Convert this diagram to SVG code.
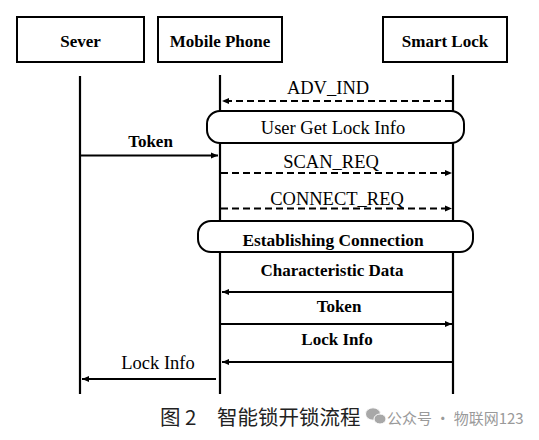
<svg xmlns="http://www.w3.org/2000/svg" width="539" height="440" viewBox="0 0 539 440">
<style>
.box{fill:#fff;stroke:#000;stroke-width:2}
.life{stroke:#000;stroke-width:2.2;fill:none}
.msg{stroke:#000;stroke-width:2;fill:none}
.dash{stroke-dasharray:7 4}
.rr{fill:#fff;stroke:#000;stroke-width:2}
.b{font-family:"Liberation Serif",serif;font-weight:bold;font-size:17px;text-anchor:middle;fill:#000}
.r{font-family:"Liberation Serif",serif;font-size:18.5px;text-anchor:middle;fill:#000}
.cap{font-family:"Noto Sans CJK SC",sans-serif;font-size:20.5px;fill:#222}
.wm{font-family:"Noto Sans CJK SC",sans-serif;font-size:15px;fill:#9a9a9a}
</style>
<defs>
<marker id="ah" markerWidth="8" markerHeight="8" refX="7" refY="4" orient="auto" markerUnits="userSpaceOnUse">
<path d="M0,1 L7,4 L0,7 Z" fill="#000"/>
</marker>
</defs>
<rect width="539" height="440" fill="#fff"/>
<g id="sever">
<rect class="box" x="17" y="17" width="127" height="45"/>
<text class="b" x="80.5" y="46.5">Sever</text>
<line class="life" x1="80" y1="76" x2="80" y2="394"/>
</g>
<g id="mobile-phone">
<rect class="box" x="158" y="17" width="124" height="45"/>
<text class="b" x="220" y="46.5">Mobile Phone</text>
<line class="life" x1="220" y1="75" x2="220" y2="394"/>
</g>
<g id="smart-lock">
<rect class="box" x="383" y="17" width="124" height="45"/>
<text class="b" x="445" y="46.5">Smart Lock</text>
<line class="life" x1="453" y1="75" x2="453" y2="394"/>
</g>
<g id="user-get-lock-info">
<rect class="rr" x="207" y="111" width="257" height="32" rx="13"/>
<text class="r" x="333" y="134">User Get Lock Info</text>
</g>
<g id="establishing-connection">
<rect class="rr" x="198" y="221" width="275" height="31" rx="13"/>
<text class="b" x="333" y="245.5" style="font-size:17.4px">Establishing Connection</text>
</g>
<g id="connectors">
<line class="msg dash" x1="452" y1="101" x2="222" y2="101" marker-end="url(#ah)"/>
<text class="r" x="328" y="93.5">ADV_IND</text>
<line class="msg" x1="81" y1="155.5" x2="218" y2="155.5" marker-end="url(#ah)"/>
<text class="b" x="150.5" y="147">Token</text>
<line class="msg dash" x1="221" y1="173" x2="452" y2="173" marker-end="url(#ah)"/>
<text class="r" x="331" y="168">SCAN_REQ</text>
<line class="msg dash" x1="221" y1="208.5" x2="452" y2="208.5" marker-end="url(#ah)"/>
<text class="r" x="337" y="204.5">CONNECT_REQ</text>
<line class="msg" x1="452" y1="292" x2="222" y2="292" marker-end="url(#ah)"/>
<text class="b" x="332" y="276">Characteristic Data</text>
<line class="msg" x1="221" y1="324" x2="452" y2="324" marker-end="url(#ah)"/>
<text class="b" x="339" y="312">Token</text>
<line class="msg" x1="452" y1="362" x2="222" y2="362" marker-end="url(#ah)"/>
<text class="b" x="337" y="345">Lock Info</text>
<line class="msg" x1="216" y1="379" x2="82" y2="379" marker-end="url(#ah)"/>
<text class="r" x="158" y="369">Lock Info</text>
</g>
<g id="caption">
<text class="cap" x="160" y="425">图 2</text>
<text class="cap" x="217" y="425">智能锁开锁流程</text>
<g id="wechat-icon" fill="#a8a8a8" stroke="#fff" stroke-width="1">
<ellipse cx="373" cy="414" rx="7.5" ry="6.2"/>
<ellipse cx="380" cy="419" rx="6" ry="5"/>
</g>
<text class="wm" x="387" y="424">公众号 · 物联网123</text>
</g>
</svg>
